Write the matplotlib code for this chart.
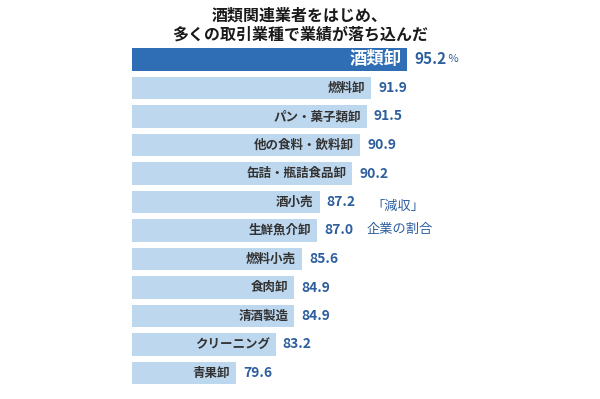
import matplotlib
matplotlib.use("Agg")
import matplotlib.pyplot as plt
from matplotlib.transforms import offset_copy

plt.rcParams['font.family'] = ['Noto Sans CJK JP', 'DejaVu Sans']

categories = ["酒類卸", "燃料卸", "パン・菓子類卸", "他の食料・飲料卸", "缶詰・瓶詰食品卸",
              "酒小売", "生鮮魚介卸", "燃料小売", "食肉卸", "清酒製造", "クリーニング", "青果卸"]
values = [95.2, 91.9, 91.5, 90.9, 90.2, 87.2, 87.0, 85.6, 84.9, 84.9, 83.2, 79.6]
title = "酒類関連業者をはじめ、\n多くの取引業種で業績が落ち込んだ"

dark = "#2f6db5"
light = "#bdd7ee"
num_col = "#2d5f9e"

fig = plt.figure(figsize=(6, 3.99), dpi=100)
ax = fig.add_axes([132 / 600, 1 - 387.25 / 399, 329 / 600, 342 / 399])

colors = [dark] + [light] * (len(values) - 1)
y = list(range(len(values)))
ax.barh(y, values, left=0, height=0.8, color=colors)
ax.set_xlim(70.1, 100.1)
ax.set_ylim(len(values) - 0.5, -0.5)
ax.axis("off")

for i, (c, v) in enumerate(zip(categories, values)):
    inside = offset_copy(ax.transData, fig=fig, x=-6, y=0, units="dots")
    outside = offset_copy(ax.transData, fig=fig, x=7, y=0, units="dots")
    if i == 0:
        ax.text(v, i, c, transform=inside, ha="right", va="center",
                color="white", fontsize=12.5, fontweight="bold")
        t = ax.text(v, i, f"{v:.1f}", transform=outside, ha="left", va="center",
                    color=num_col, fontsize=11, fontweight="bold")
        ax.annotate(" %", xycoords=t, xy=(1, 0.25), va="bottom", ha="left",
                    color=num_col, fontsize=8)
    else:
        ax.text(v, i, c, transform=inside, ha="right", va="center",
                color="#333333", fontsize=9, fontweight="bold")
        ax.text(v, i, f"{v:.1f}", transform=outside, ha="left", va="center",
                color=num_col, fontsize=10, fontweight="bold")

fig.text(398 / 600, 1 - 206 / 399, "「減収」", ha="center", va="center",
         color=num_col, fontsize=9.5)
fig.text(400 / 600, 1 - 229 / 399, "企業の割合", ha="center", va="center",
         color=num_col, fontsize=9.5)

fig.text(0.5, 1 - 25 / 399, title, ha="center", va="center",
         fontsize=11.5, fontweight="bold", color="#1a1a1a", linespacing=1.2)

fig.savefig("out.png", dpi=100)
